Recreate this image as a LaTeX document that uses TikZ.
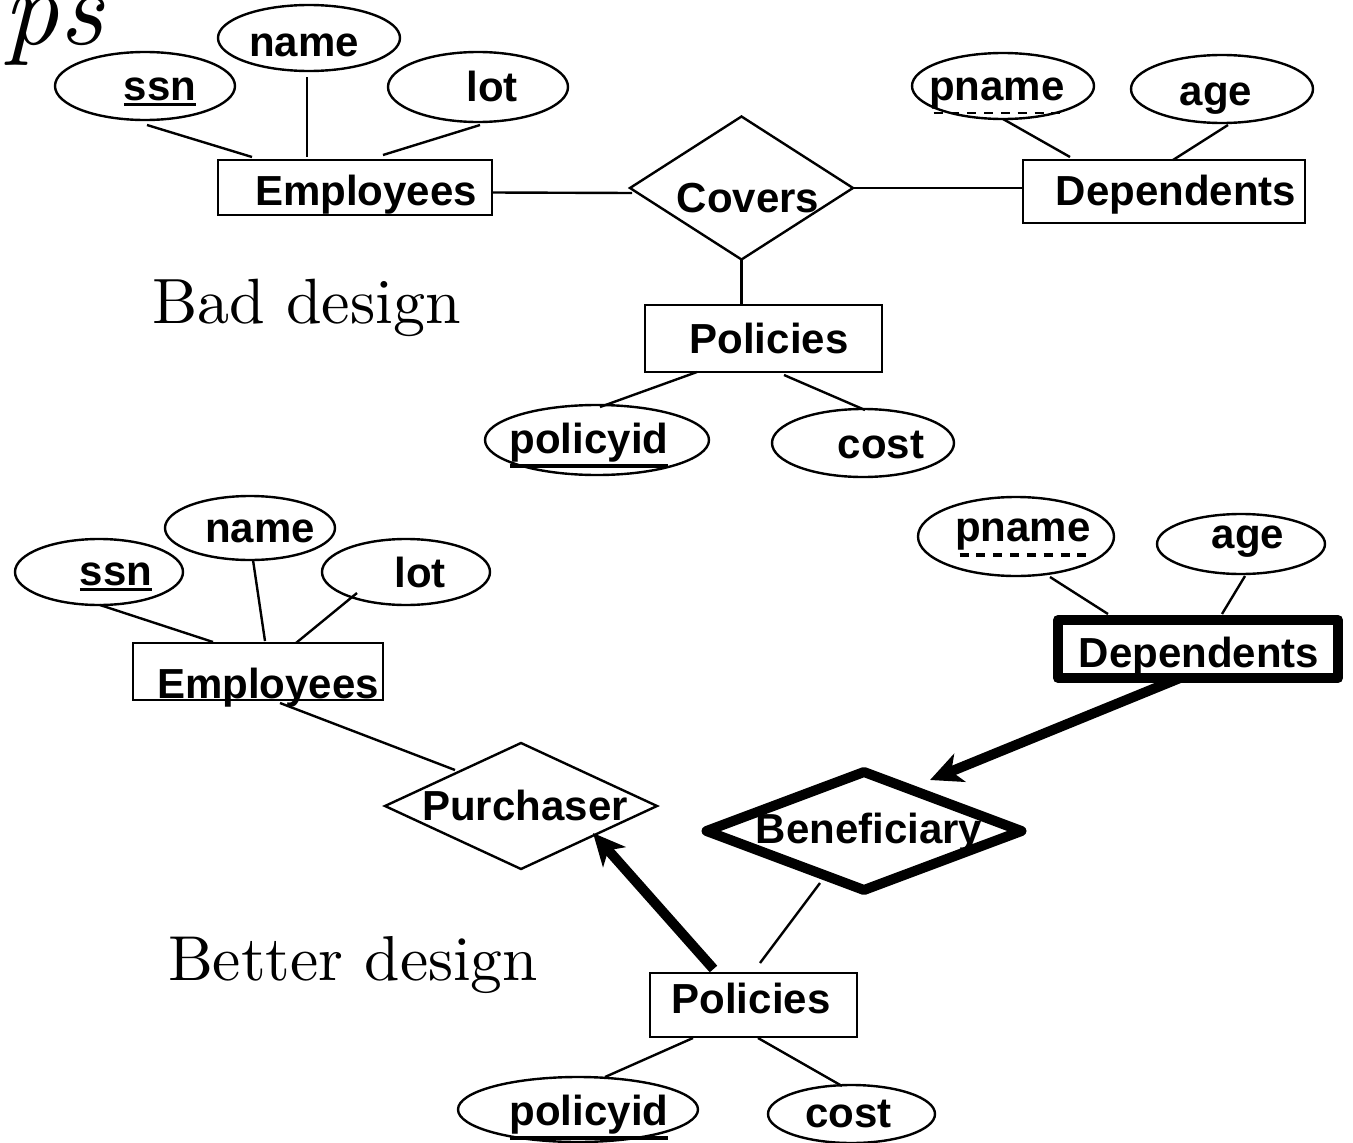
\documentclass[tikz,border=0pt]{standalone}
\usepackage{fontspec}
\newfontfamily\arialf{Liberation Sans}
\newfontfamily\lmten{lmroman10-regular}[Extension=.otf]
\newfontfamily\lmtenit{lmroman10-italic}[Extension=.otf]
\usetikzlibrary{shapes.geometric,arrows.meta,calc}
\newcommand\keyul[1]{\vtop{\hbox{#1}\kern2.5pt\hrule height 3.5pt}}
\newcommand\partul[2]{\setbox0\hbox{#2}\vtop{\copy0\nointerlineskip\kern3pt\hbox to\wd0{\xleaders\hbox to 16pt{\hss\vrule height #1 width 9pt\hss}\hfill}}}
\begin{document}
\begin{tikzpicture}[x=1pt,y=-1pt,
  every node/.style={outer sep=0pt, inner sep=0pt},
  attr/.style={ellipse, draw, line width=2.4pt},
  ent/.style={rectangle, draw, line width=2.4pt},
  rel/.style={diamond, draw, line width=2.4pt},
  lbl/.style={font=\arialf\bfseries\fontsize{42}{48}\selectfont, inner sep=0pt, text height=0pt, text depth=0pt},
  conn/.style={line width=2.4pt},
  heavy/.style={line width=10pt, line join=round},
  heavyarrow/.style={line width=10pt, -{Stealth[length=32pt,width=30pt,inset=9pt]}},
  serif/.style={anchor=base west, inner sep=0pt}]
\useasboundingbox[fill=white] (0,0) rectangle (1353,1143);

% ---------- title fragment ----------
\node[anchor=base west, font=\lmtenit\fontsize{108}{110}\selectfont] (title) at (4,45) {ps};

% ---------- bad design ----------
\node[attr, minimum width=182, minimum height=66, label={[lbl,shift={(-5,18)}]center:name}] (name1) at (309,38) {};
\node[attr, minimum width=180, minimum height=68, label={[lbl,shift={(15,14)}]center:\keyul{ssn}}] (ssn1) at (145,86) {};
\node[attr, minimum width=180, minimum height=70, label={[lbl,shift={(14,14)}]center:lot}] (lot1) at (478,87) {};
\node[ent, minimum width=274, minimum height=55, label={[lbl,shift={(11,17.5)}]center:Employees}] (emp1) at (355,187.5) {};
\node[rel, minimum width=223, minimum height=143, label={[lbl,shift={(6.5,24)}]center:Covers}] (cov) at (741.5,188) {};
\node[ent, minimum width=282, minimum height=63, label={[lbl,shift={(12,13.5)}]center:Dependents}] (dep1) at (1164,191.5) {};
\node[attr, minimum width=182, minimum height=66, label={[lbl,shift={(-6,14)}]center:\partul{2pt}{pname}}] (pname1) at (1003,86) {};
\node[attr, minimum width=182, minimum height=68, label={[lbl,shift={(-6,16)}]center:age}] (age1) at (1222,89) {};
\node[ent, minimum width=237, minimum height=67, label={[lbl,shift={(5.5,14.5)}]center:Policies}] (pol1) at (763.5,338.5) {};
\node[attr, minimum width=224, minimum height=70, label={[lbl,shift={(-8,13)}]center:\keyul{policyid}}] (pid1) at (597,440) {};
\node[attr, minimum width=182, minimum height=68, label={[lbl,shift={(18,15)}]center:cost}] (cost1) at (863,443) {};
\node[serif, font=\lmten\fontsize{64}{70}\selectfont] (bad) at (152,323) {Bad design};

\draw[conn] ([shift={(2,5)}]ssn1.south) -- ([shift={(34,-3)}]emp1.north west);
\draw[conn] ([shift={(-2,6)}]name1.south) -- ([shift={(-48,-3)}]emp1.north);
\draw[conn] ([shift={(2,3)}]lot1.south) -- ([shift={(28,-5)}]emp1.north);
\draw[conn] ([shift={(0,5)}]emp1.east) -- ([shift={(2,5)}]cov.west);
\draw[conn] (cov.east) -- (cov.east -| dep1.west);
\draw[conn] (cov.south) -- (cov.south |- pol1.north);
\draw[conn] (pname1.south) -- ([shift={(47,-3)}]dep1.north west);
\draw[conn] ([shift={(6,2)}]age1.south) -- ([shift={(9,0)}]dep1.north);
\draw[conn] ([shift={(-66.5,0)}]pol1.south) -- ([shift={(3,2)}]pid1.north);
\draw[conn] ([shift={(20.5,3)}]pol1.south) -- ([shift={(2,1)}]cost1.north);

% ---------- better design ----------
\node[attr, minimum width=170, minimum height=64, label={[lbl,shift={(10,14)}]center:name}] (name2) at (250,528) {};
\node[attr, minimum width=168, minimum height=66, label={[lbl,shift={(17,13)}]center:\keyul{ssn}}] (ssn2) at (99,572) {};
\node[attr, minimum width=168, minimum height=66, label={[lbl,shift={(14,15)}]center:lot}] (lot2) at (406,572) {};
\node[ent, minimum width=250, minimum height=57, label={[lbl,shift={(10,26.5)}]center:Employees}] (emp2) at (258,671.5) {};
\node[rel, minimum width=272, minimum height=126, label={[lbl,shift={(4,14)}]center:Purchaser}] (purch) at (521,806) {};
\node[attr, minimum width=196, minimum height=79, label={[lbl,shift={(7,5)}]center:\partul{3.5pt}{pname}}] (pname2) at (1016,536.5) {};
\node[attr, minimum width=168, minimum height=60, label={[lbl,shift={(7,4)}]center:age}] (age2) at (1241,544) {};
\node[ent, heavy, minimum width=280, minimum height=58, label={[lbl,shift={(1,18)}]center:Dependents}] (dep2) at (1198,649) {};
\node[rel, heavy, minimum width=315, minimum height=118, label={[lbl,shift={(5,12)}]center:Beneficiary}] (ben) at (864,831) {};
\node[ent, minimum width=207, minimum height=64, label={[lbl,shift={(-2.5,8)}]center:Policies}] (pol2) at (753.5,1005) {};
\node[attr, minimum width=240, minimum height=65, label={[lbl,shift={(11,15.5)}]center:\keyul{policyid}}] (pid2) at (578,1109.5) {};
\node[attr, minimum width=167, minimum height=58, label={[lbl,shift={(-3,13)}]center:cost}] (cost2) at (851.5,1114) {};
\node[serif, font=\lmten\fontsize{63.5}{70}\selectfont] (better) at (168,980) {Better design};

\draw[conn] ([shift={(1,0)}]ssn2.south) -- ([shift={(80,-1)}]emp2.north west);
\draw[conn] ([shift={(3,0)}]name2.south) -- ([shift={(7,-2)}]emp2.north);
\draw[conn] ([shift={(-49,21)}]lot2.center) -- ([shift={(38,0)}]emp2.north);
\draw[conn] ([shift={(22,3)}]emp2.south) -- ([shift={(-66,27)}]purch.north);
\draw[conn] ([shift={(34,1)}]pname2.south) -- ([shift={(-90,-6)}]dep2.north);
\draw[conn] ([shift={(4,2)}]age2.south) -- ([shift={(24,-6)}]dep2.north);
\draw[heavyarrow] ([shift={(-18,0)}]dep2.south) -- ([shift={(66,8)}]ben.north);
\draw[heavyarrow] ([shift={(-40,-4)}]pol2.north) -- ([shift={(72,-36)}]purch.south);
\draw[conn] ([shift={(-44,-7)}]ben.south) -- ([shift={(6.5,-10)}]pol2.north);
\draw[conn] ([shift={(-60.5,1)}]pol2.south) -- ([shift={(27,0)}]pid2.north);
\draw[conn] ([shift={(4.5,1)}]pol2.south) -- ([shift={(-9.5,1)}]cost2.north);
\end{tikzpicture}
\end{document}
